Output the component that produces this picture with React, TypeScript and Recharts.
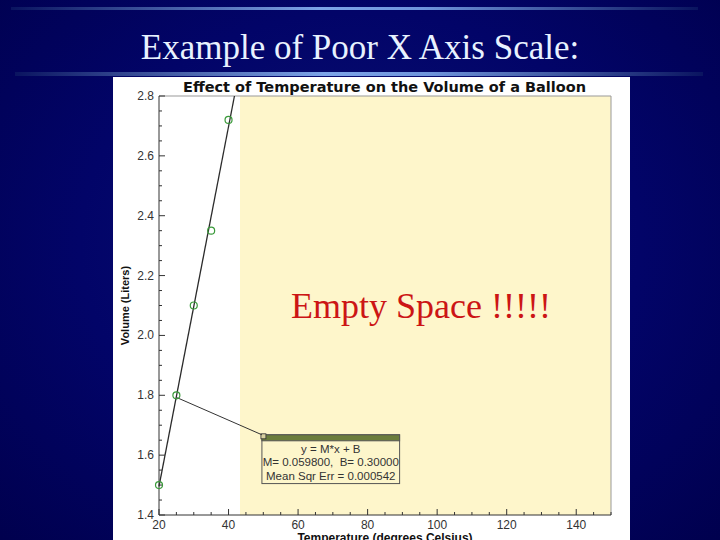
import {
  ComposedChart,
  Line,
  ReferenceArea,
  ReferenceLine,
  Scatter,
  XAxis,
  YAxis,
} from "recharts";

// measured points (temperature °C, volume L)
const temps = [20, 25, 30, 35, 40];
const volumes = [1.5, 1.8, 2.1, 2.35, 2.72];

// least squares line y = M*x + B, drawn until it leaves the top of the plot
const fitTemps = [20, 41.7];
const fitVolumes = [1.496, 2.8];

// pointer from the second point to the fit box, and the box itself
const pointerTemps = [25.2, 49.6];
const pointerVolumes = [1.792, 1.668];
const boxTemps = [49.6, 89.2];
const boxVolumes = [1.505, 1.668];
const boxLines = ["y = M*x + B", "M= 0.059800,  B= 0.30000", "Mean Sqr Err = 0.000542"];

// the "empty" part of the plot starts here
const shadedFrom = 43.3;

const xTicks = [
  20, 25, 30, 35, 40, 45, 50, 55, 60, 65, 70, 75, 80, 85, 90, 95, 100, 105, 110,
  115, 120, 125, 130, 135, 140, 145, 150,
];
const xLabels = [20, 40, 60, 80, 100, 120, 140];
const yTicks = [
  1.4, 1.45, 1.5, 1.55, 1.6, 1.65, 1.7, 1.75, 1.8, 1.85, 1.9, 1.95, 2.0, 2.05,
  2.1, 2.15, 2.2, 2.25, 2.3, 2.35, 2.4, 2.45, 2.5, 2.55, 2.6, 2.65, 2.7, 2.75, 2.8,
];
const yLabels = [1.4, 1.6, 1.8, 2.0, 2.2, 2.4, 2.6, 2.8];

const points = temps.map((t, i) => ({ x: t, y: volumes[i] }));
const fit = fitTemps.map((t, i) => ({ x: t, y: fitVolumes[i] }));
const pointer = pointerTemps.map((t, i) => ({ x: t, y: pointerVolumes[i] }));

const sans = "'Liberation Sans', Arial, sans-serif";
const wide = "'DejaVu Sans', Verdana, sans-serif";
const serif = "'Liberation Serif', 'Times New Roman', serif";

// ticks point into the plot, like the old plotting package did
function XTick(props: any) {
  const { x, y, payload } = props;
  const v = payload.value;
  const major = xLabels.includes(v);
  return (
    <g>
      <line x1={x} x2={x} y1={y} y2={y - (major ? 6 : 3)} stroke="#333" />
      {major && (
        <text x={x} y={y + 13.5} textAnchor="middle" fontSize={12} fill="#333" fontFamily={sans}>
          {v}
        </text>
      )}
    </g>
  );
}

function YTick(props: any) {
  const { x, y, payload } = props;
  const v = payload.value;
  const major = yLabels.some((l) => Math.abs(l - v) < 1e-6);
  return (
    <g>
      <line x1={x} x2={x + (major ? 6 : 3)} y1={y} y2={y} stroke="#333" />
      {major && (
        <text x={x - 5} y={y + 4} textAnchor="end" fontSize={12} fill="#333" fontFamily={sans}>
          {v.toFixed(1)}
        </text>
      )}
    </g>
  );
}

function FitBox(props: any) {
  const { x, y, width, height } = props;
  const cx = x + width / 2;
  return (
    <g>
      <rect x={x} y={y} width={width} height={height} fill="#fdf6cb" stroke="#555" />
      <rect x={x} y={y} width={width} height={6} fill="#6b7d3c" stroke="#555" />
      <rect x={x - 1} y={y - 1} width={5} height={5} fill="#d8d0a0" stroke="#333" strokeWidth={0.8} />
      {boxLines.map((t, i) => (
        <text
          key={i}
          x={cx}
          y={y + 18 + i * 13.5}
          textAnchor="middle"
          fontSize={11.5}
          fill="#333"
          fontFamily={sans}
          style={{ whiteSpace: "pre" }}
        >
          {t}
        </text>
      ))}
    </g>
  );
}

function BalloonChart() {
  return (
    <ComposedChart width={517} height={463} margin={{ top: 19, right: 19, bottom: 0, left: 0 }}>
      <XAxis
        type="number"
        dataKey="x"
        domain={[20, 150]}
        ticks={xTicks}
        interval={0}
        tickSize={0}
        tickMargin={0}
        tick={<XTick />}
        height={25}
        axisLine={{ stroke: "#333" }}
        label={{
          content: ({ viewBox }: any) => (
            <text
              x={viewBox.x + viewBox.width / 2}
              y={viewBox.y + 27}
              textAnchor="middle"
              fontSize={12}
              fontWeight="bold"
              fill="#111"
              fontFamily={sans}
            >
              Temperature (degrees Celsius)
            </text>
          ),
        }}
      />
      <YAxis
        type="number"
        domain={[1.4, 2.8]}
        ticks={yTicks}
        interval={0}
        tickSize={0}
        tickMargin={0}
        tick={<YTick />}
        width={46}
        axisLine={{ stroke: "#333" }}
        label={{
          content: ({ viewBox }: any) => {
            const lx = viewBox.x + 16;
            const ly = viewBox.y + viewBox.height / 2;
            return (
              <text
                x={lx}
                y={ly}
                transform={`rotate(-90 ${lx} ${ly})`}
                textAnchor="middle"
                fontSize={11}
                fontWeight="bold"
                fill="#111"
                fontFamily={sans}
              >
                Volume (Liters)
              </text>
            );
          },
        }}
      />
      <ReferenceArea
        x1={shadedFrom}
        x2={150}
        y1={1.4}
        y2={2.8}
        fill="#fef6cb"
        fillOpacity={1}
        stroke="none"
      />
      <ReferenceLine y={2.8} stroke="#999" />
      <ReferenceLine x={150} stroke="#999" />
      <Line
        data={fit}
        dataKey="y"
        stroke="#2a2a2a"
        strokeWidth={1.3}
        dot={false}
        isAnimationActive={false}
      />
      <Line
        data={pointer}
        dataKey="y"
        stroke="#333"
        strokeWidth={1}
        dot={false}
        isAnimationActive={false}
      />
      <Scatter
        data={points}
        dataKey="y"
        fill="none"
        stroke="#3a9a3a"
        strokeWidth={1.2}
        shape={(p: any) => (
          <circle cx={p.cx} cy={p.cy} r={3.5} fill="none" stroke="#3a9a3a" strokeWidth={1.2} />
        )}
        isAnimationActive={false}
      />
      <ReferenceArea
        x1={boxTemps[0]}
        x2={boxTemps[1]}
        y1={boxVolumes[0]}
        y2={boxVolumes[1]}
        shape={<FitBox />}
      />
    </ComposedChart>
  );
}

export default function App() {
  return (
    <div
      style={{
        position: "absolute",
        left: 0,
        top: 0,
        width: 720,
        height: 540,
        overflow: "hidden",
        background: "radial-gradient(ellipse at 50% 45%, #0a1274 0%, #020468 55%, #00004e 100%)",
      }}
    >
      <svg width={720} height={540} style={{ position: "absolute", left: 0, top: 0 }}>
        <defs>
          <linearGradient id="rule" x1="0" x2="1" y1="0" y2="0">
            <stop offset="0" stopColor="#0a1460" />
            <stop offset="0.45" stopColor="#7da4e8" />
            <stop offset="0.6" stopColor="#6f95dc" />
            <stop offset="1" stopColor="#0a1460" />
          </linearGradient>
        </defs>
        <rect x={11} y={7} width={687} height={3} fill="url(#rule)" />
        <rect x={15} y={72} width={688} height={4} fill="url(#rule)" />
        <text
          x={360}
          y={59}
          textAnchor="middle"
          fontSize={35}
          fill="#e8f2ff"
          fontFamily={serif}
        >
          Example of Poor X Axis Scale:
        </text>
      </svg>
      <div
        style={{
          position: "absolute",
          left: 113,
          top: 77,
          width: 517,
          height: 463,
          background: "#fff",
        }}
      >
        <BalloonChart />
      </div>
      <svg
        width={720}
        height={540}
        style={{ position: "absolute", left: 0, top: 0, pointerEvents: "none" }}
      >
        <text
          x={384.5}
          y={92}
          textAnchor="middle"
          fontSize={13.5}
          fontWeight="bold"
          fill="#111"
          fontFamily={wide}
          textLength={403}
          lengthAdjust="spacingAndGlyphs"
        >
          Effect of Temperature on the Volume of a Balloon
        </text>
        <text x={421} y={318} textAnchor="middle" fontSize={36} fill="#cc1515" fontFamily={serif}>
          Empty Space !!!!!
        </text>
      </svg>
    </div>
  );
}
